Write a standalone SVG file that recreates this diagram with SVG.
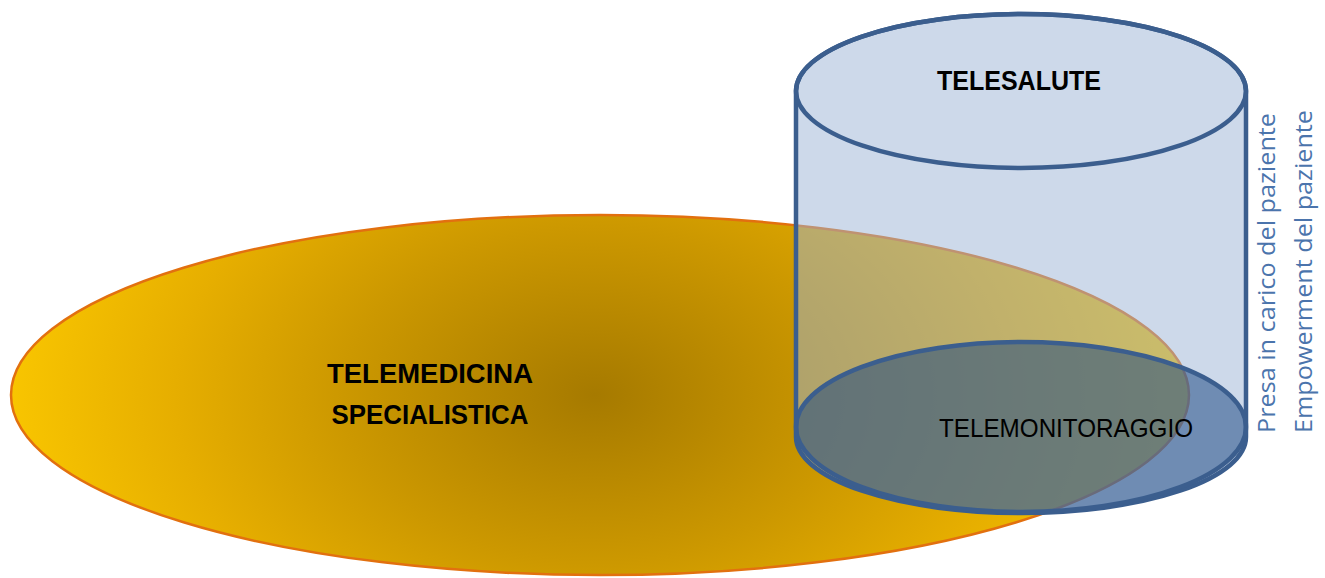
<svg xmlns="http://www.w3.org/2000/svg" width="1325" height="578" viewBox="0 0 1325 578">
  <defs>
    <radialGradient id="gold" gradientUnits="userSpaceOnUse" cx="0" cy="0" r="1" gradientTransform="translate(595,395) scale(600,400)">
      <stop offset="0" stop-color="#A67A00"/>
      <stop offset="0.42" stop-color="#CC9800"/>
      <stop offset="0.7" stop-color="#E6AE00"/>
      <stop offset="1" stop-color="#FAC700"/>
    </radialGradient>
    <style>
      .lbl { font-family: "Liberation Sans", Arial, sans-serif; fill: #000; }
      .bold { font-weight: bold; font-size: 28px; }
      .side { font-family: "Open Sans", "Liberation Sans", sans-serif; font-size: 23px; fill: #4B74AC; }
      .cylStroke { stroke: #3B5E8E; stroke-width: 4.5; }
    </style>
  </defs>
  <rect width="1325" height="578" fill="#ffffff"/>

  <g id="telemedicina">
    <ellipse cx="600" cy="395" rx="589" ry="180" fill="url(#gold)" stroke="#E2700F" stroke-width="2.5"/>
    <text class="lbl bold" x="430" y="383" text-anchor="middle" textLength="206" lengthAdjust="spacingAndGlyphs">TELEMEDICINA</text>
    <text class="lbl bold" x="430" y="424" text-anchor="middle" textLength="197" lengthAdjust="spacingAndGlyphs">SPECIALISTICA</text>
  </g>

  <g id="telesalute">
    <path d="M796,91 A225,77 0 0 1 1246,91 L1246,437 A225,76 0 0 1 796,437 Z" fill="#9BB3D5" fill-opacity="0.5" class="cylStroke"/>
    <ellipse cx="1021" cy="91" rx="225" ry="77" fill="none" class="cylStroke"/>
    <text class="lbl bold" x="1019" y="90" text-anchor="middle" textLength="164" lengthAdjust="spacingAndGlyphs">TELESALUTE</text>
  </g>

  <g id="telemonitoraggio">
    <ellipse cx="1021" cy="427" rx="225" ry="85" fill="#1C4883" fill-opacity="0.53" class="cylStroke"/>
    <text class="lbl" x="1066" y="437" font-size="26" text-anchor="middle" textLength="254" lengthAdjust="spacingAndGlyphs">TELEMONITORAGGIO</text>
  </g>

  <g id="side-labels">
    <text class="side" transform="translate(1275,433) rotate(-90)" textLength="320" lengthAdjust="spacingAndGlyphs">Presa in carico del paziente</text>
    <text class="side" transform="translate(1312,433) rotate(-90)" textLength="323" lengthAdjust="spacingAndGlyphs">Empowerment del paziente</text>
  </g>
</svg>
